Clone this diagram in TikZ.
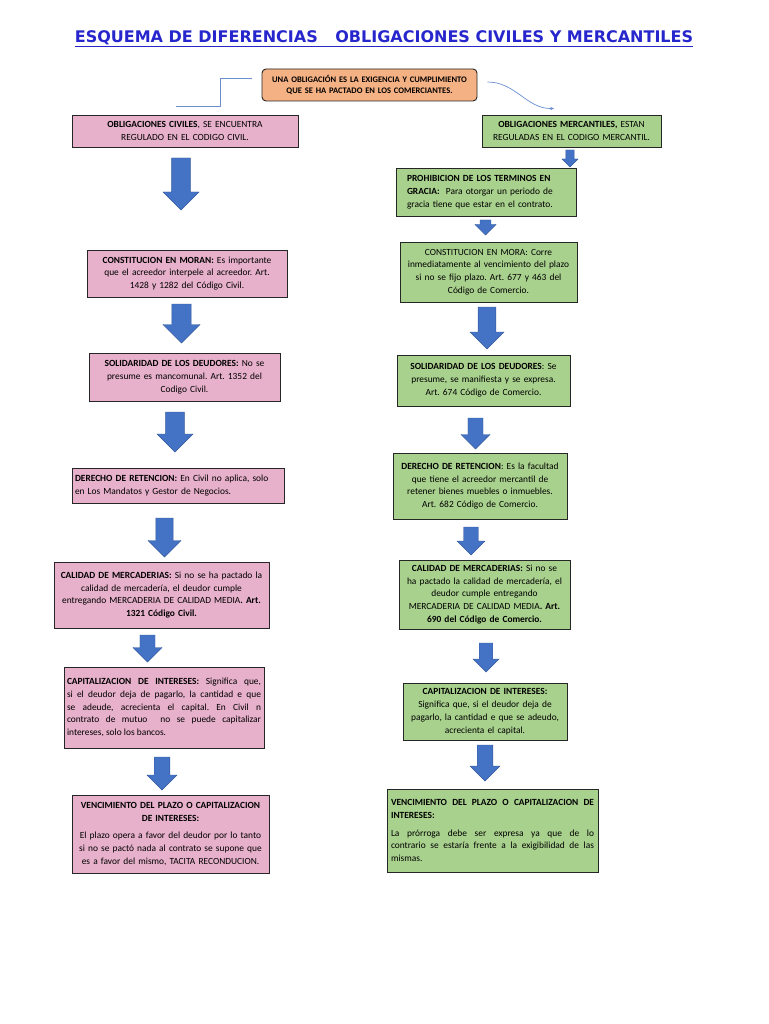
\documentclass[tikz,border=0pt]{standalone}
\usepackage{fontspec}
\setmainfont{Carlito}
\newfontfamily\titulofont{DejaVu Sans}
\usepackage{tikz}
\usetikzlibrary{arrows.meta}
\definecolor{rosa}{HTML}{E7B1CB}
\definecolor{verde}{HTML}{A9D18E}
\definecolor{naranja}{HTML}{F4B183}
\definecolor{azulflecha}{HTML}{4472C4}
\definecolor{azultitulo}{HTML}{2626CC}
\definecolor{azulenlace}{HTML}{6A8FCF}
\tikzset{
  caja/.style={draw=black!85, line width=0.9pt, inner xsep=3pt, inner ysep=2pt,
    align=center, font=\fontsize{9.4}{12.8}\selectfont},
  civil/.style={caja, fill=rosa, text width=#1},
  mercantil/.style={caja, fill=verde, text width=#1},
  enlace/.style={draw=azulenlace, line width=0.7pt},
  flecha/.style={fill=azulflecha, draw=azulflecha!80!black, line width=0.4pt}
}

\begin{document}
\frenchspacing
\begin{tikzpicture}[x=1pt,y=-1pt]
    % page
    \fill[white] (0,0) rectangle (768,1024);
    \useasboundingbox (0,0) rectangle (768,1024);

    % Title
    \node[font=\titulofont\bfseries\fontsize{16}{19}\selectfont, text=azultitulo] (titulo) at (384,39)
        {\underline{ESQUEMA DE DIFERENCIAS\hspace{1.1em}OBLIGACIONES CIVILES Y MERCANTILES}};

    % Definition at the top
    \node[caja, fill=naranja, rounded corners=4pt, text width=209pt, minimum height=32pt,
        font=\bfseries\fontsize{8.5}{11.5}\selectfont] (obligacion) at (369.5,85)
        {UNA OBLIGACIÓN ES LA EXIGENCIA Y CUMPLIMIENTO\\QUE SE HA PACTADO EN LOS COMERCIANTES.};

    % Left column, civil
    \node[civil=220pt, minimum height=32pt] (civ1) at (185,131)
        {\textbf{OBLIGACIONES CIVILES}, SE ENCUENTRA\\REGULADO EN EL CODIGO CIVIL.};
    \node[civil=194pt, minimum height=47pt] (civ2) at (187,273.5)
        {\textbf{CONSTITUCION EN MORAN:} Es importante\\que el acreedor interpele al acreedor. Art.\\1428 y 1282 del Código Civil.};
    \node[civil=185pt, minimum height=48pt] (civ3) at (184.5,377)
        {\textbf{SOLIDARIDAD DE LOS DEUDORES:} No se\\presume es mancomunal. Art. 1352 del\\Codigo Civil.};
    \node[civil=206pt, minimum height=35pt, align=left] (civ4) at (178,485.5)
        {\textbf{DERECHO DE RETENCION:} En Civil no aplica, solo\\en Los Mandatos y Gestor de Negocios.};
    \node[civil=211pt, inner xsep=2pt, minimum height=66pt] (civ5) at (161.5,595)
        {\textbf{CALIDAD DE MERCADERIAS:} Si no se ha pactado la\\calidad de mercadería, el deudor cumple\\entregando MERCADERIA DE CALIDAD MEDIA\textbf{. Art.}\\\textbf{1321 Código Civil.}};
    \node[civil=194pt, minimum height=81pt, align=justify] (civ6) at (164,707.5)
        {\textbf{CAPITALIZACION DE INTERESES:} Significa que,\linebreak
         si el deudor deja de pagarlo, la cantidad e que\linebreak
         se adeude, acrecienta el capital. En Civil n\linebreak
         contrato de mutuo\ \ no se puede capitalizar\linebreak
         intereses, solo los bancos.};
    \node[civil=191pt, minimum height=78pt] (civ7) at (170.5,834)
        {\textbf{VENCIMIENTO DEL PLAZO O CAPITALIZACION}\\\textbf{DE INTERESES:}\\[5pt]
         El plazo opera a favor del deudor por lo tanto\\si no se pactó nada al contrato se supone que\\es a favor del mismo, TACITA RECONDUCION.};

    % Right column, mercantil
    \node[mercantil=173pt, minimum height=32pt] (mer1) at (571.5,131)
        {\textbf{OBLIGACIONES MERCANTILES,} ESTAN\\REGULADAS EN EL CODIGO MERCANTIL.};
    \node[mercantil=158pt, inner xsep=11pt, minimum height=48pt, align=left] (mer2) at (486,192)
        {\textbf{PROHIBICION DE LOS TERMINOS EN}\\\textbf{GRACIA:}\ \ Para otorgar un periodo de\\gracia tiene que estar en el contrato.};
    \node[mercantil=171pt, minimum height=60pt] (mer3) at (488.5,272)
        {CONSTITUCION EN MORA: Corre\\inmediatamente al vencimiento del plazo\\si no se fijo plazo. Art. 677 y 463 del\\Código de Comercio.};
    \node[mercantil=167pt, minimum height=51pt] (mer4) at (483.5,380.5)
        {\textbf{SOLIDARIDAD DE LOS DEUDORES}: Se\\presume, se manifiesta y se expresa.\\Art. 674 Código de Comercio.};
    \node[mercantil=168pt, minimum height=66pt] (mer5) at (480,486)
        {\textbf{DERECHO DE RETENCION}: Es la facultad\\que tiene el acreedor mercantil de\\retener bienes muebles o inmuebles.\\Art. 682 Código de Comercio.};
    \node[mercantil=165pt, minimum height=69pt] (mer6) at (484.5,594.5)
        {\textbf{CALIDAD DE MERCADERIAS:} Si no se\\ha pactado la calidad de mercadería, el\\deudor cumple entregando\\MERCADERIA DE CALIDAD MEDIA\textbf{. Art.}\\\textbf{690 del Código de Comercio.}};
    \node[mercantil=158pt, minimum height=57pt] (mer7) at (485,711.5)
        {\textbf{CAPITALIZACION DE INTERESES:}\\Significa que, si el deudor deja de\\pagarlo, la cantidad e que se adeudo,\\acrecienta el capital.};
    \node[mercantil=203pt, inner xsep=4pt, minimum height=83pt, align=justify] (mer8) at (492.5,830.5)
        {\textbf{VENCIMIENTO DEL PLAZO O CAPITALIZACION DE}\linebreak\textbf{INTERESES:}\par\vspace{5pt}
         La prórroga debe ser expresa ya que de lo\linebreak
         contrario se estaría frente a la exigibilidad de las\linebreak
         mismas.};

    % Links from the definition
    \draw[enlace] ([shift={(-10,-7)}]obligacion.west) -- ++(-31,0) |- ([shift={(-9,-8)}]civ1.north);
    \draw[enlace, -{Latex[length=4pt,width=3.5pt]}] ([shift={(10,-3)}]obligacion.east)
        to[out=0, in=180] ([shift={(-17,-6)}]mer1.north);

    % Block arrows: x / top / tip / head width
    \foreach \x/\ya/\yb/\w in {181/158/210/36, 181.5/304/343/37, 175/412/452/36, 164.5/518/557/33,
        147.5/635/662/29, 162/757/790/30, 570/150/167/16, 485.5/220/235/21, 487/307/349/34,
        475.5/418/449/29, 471/527/555/28, 486/643/672/26, 485/745/781/30}
        \filldraw[flecha] ({\x-0.26*\w},\ya) -- ({\x+0.26*\w},\ya) -- ({\x+0.26*\w},{\yb-0.5*\w})
            -- ({\x+0.5*\w},{\yb-0.5*\w}) -- (\x,\yb) -- ({\x-0.5*\w},{\yb-0.5*\w})
            -- ({\x-0.26*\w},{\yb-0.5*\w}) -- cycle;
\end{tikzpicture}
\end{document}
